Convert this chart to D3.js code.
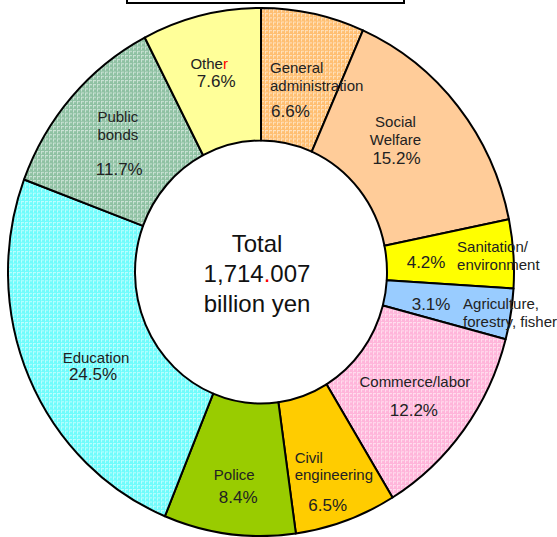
<!DOCTYPE html>
<html>
<head>
<meta charset="utf-8">
<script src="https://cdn.jsdelivr.net/npm/d3@7"></script>
<style>
  body { margin: 0; background: #fff; }
  svg { display: block; }
  text { font-family: "Liberation Sans", Arial, sans-serif; fill: #222; }
</style>
</head>
<body>
<svg id="chart" width="557" height="537"></svg>
<script>
const categories = ["General administration", "Social Welfare", "Sanitation/environment",
  "Agriculture, forestry, fishery", "Commerce/labor", "Civil engineering", "Police",
  "Education", "Public bonds", "Other"];
const shares = [6.6, 15.2, 4.2, 3.1, 12.2, 6.5, 8.4, 24.5, 11.7, 7.6];
const nameLines = [["General", "administration"], ["Social", "Welfare"], ["Sanitation/", "environment"],
  ["Agriculture,", "forestry, fishery"], ["Commerce/labor"], ["Civil", "engineering"], ["Police"],
  ["Education"], ["Public", "bonds"], ["Othe{r}"]];
const totalLines = ["Total", "1,714{.}007", "billion yen"];

const fills = ["#ffbf72", "#ffcc99", "#ffff00", "#99ccff", "#ffb5da", "#ffcc00", "#99cc00",
  "#6ffcfc", "#8fc1a3", "#ffff99"];
const dotted = [true, false, false, false, true, false, false, true, true, false];

// label layout: offsets from slice centroid, for name lines and for the percentage
const layout = [
  { anchor: "start", dx: -30, dy: [-5.5, 12.5], pAnchor: "start", pdx: -29, pdy: 38.5 },
  { anchor: "middle", dx: -13, dy: [-21, -3], pAnchor: "middle", pdx: -12, pdy: 16 },
  { anchor: "start", dx: 7, dy: [-6.4, 11.6], pAnchor: "middle", pdx: -24, pdy: 9.6 },
  { anchor: "start", dx: 15, dy: [5.4, 23.4], pAnchor: "middle", pdx: -17, pdy: 6.4 },
  { anchor: "middle", dx: 2, dy: [-3], pAnchor: "middle", pdx: 1, pdy: 26 },
  { anchor: "start", dx: -30, dy: [5, 22], pAnchor: "middle", pdx: 3, pdy: 53 },
  { anchor: "middle", dx: -3, dy: [12], pAnchor: "middle", pdx: 1, pdy: 35 },
  { anchor: "middle", dx: 8.7, dy: [12], pAnchor: "middle", pdx: 5.7, pdy: 29 },
  { anchor: "middle", dx: -1.4, dy: [-18.7, -0.7], pAnchor: "middle", pdx: 0, pdy: 34.3 },
  { anchor: "middle", dx: -7, dy: [-11], pAnchor: "middle", pdx: 0, pdy: 7 }
];

const cx = 261, cy = 272;
const rOuter = 253, rInner = 126;
const yScale = 264 / 253;

const svg = d3.select("#chart");

// title box (only its lower edge is visible)
svg.append("rect")
  .attr("x", 127).attr("y", -30)
  .attr("width", 277).attr("height", 33)
  .attr("fill", "#fff").attr("stroke", "#000").attr("stroke-width", 2);

const defs = svg.append("defs");
fills.forEach((c, i) => {
  if (!dotted[i]) return;
  const p = defs.append("pattern")
    .attr("id", "pat" + i)
    .attr("patternUnits", "userSpaceOnUse")
    .attr("width", 4).attr("height", 4);
  p.append("rect").attr("width", 4).attr("height", 4).attr("fill", c);
  p.append("rect").attr("x", 0).attr("y", 0).attr("width", 3).attr("height", 1)
    .attr("fill", "#fff").attr("opacity", 0.55);
  p.append("rect").attr("x", 0).attr("y", 1).attr("width", 1).attr("height", 2)
    .attr("fill", "#fff").attr("opacity", 0.55);
});

const pie = d3.pie().sort(null).value(d => d)
  .startAngle(0).endAngle(2 * Math.PI);
const arcs = pie(shares);

const arc = d3.arc().innerRadius(rInner).outerRadius(rOuter);

const g = svg.append("g")
  .attr("transform", `translate(${cx},${cy}) scale(1,${yScale})`);

g.selectAll("path.slice")
  .data(arcs)
  .join("path")
  .attr("class", "slice")
  .attr("d", arc)
  .attr("fill", (d, i) => dotted[i] ? `url(#pat${i})` : fills[i])
  .attr("stroke", "#000")
  .attr("stroke-width", 2)
  .attr("stroke-linejoin", "round")
  .attr("vector-effect", "non-scaling-stroke");

// text with {x} marking a red character
const addRich = (sel, str) => {
  str.split(/(\{[^}]*\})/).filter(s => s.length).forEach(part => {
    if (part[0] === "{") {
      sel.append("tspan").style("fill", "#ff0000").text(part.slice(1, -1));
    } else {
      sel.append("tspan").text(part);
    }
  });
};

const labels = svg.append("g");
const fmt = d3.format(".1f");

arcs.forEach((d, i) => {
  const [mx, my] = arc.centroid(d);
  const px = cx + mx, py = cy + my * yScale;
  const L = layout[i];
  nameLines[i].forEach((line, j) => {
    const t = labels.append("text")
      .attr("x", px + L.dx)
      .attr("y", py + L.dy[j])
      .attr("text-anchor", L.anchor)
      .style("font-size", "15px");
    addRich(t, line);
  });
  labels.append("text")
    .attr("x", px + L.pdx)
    .attr("y", py + L.pdy)
    .attr("text-anchor", L.pAnchor)
    .style("font-size", "17px")
    .text(fmt(d.data) + "%");
});

// centre total
totalLines.forEach((line, j) => {
  const t = svg.append("text")
    .attr("x", cx - 4)
    .attr("y", cy - 20 + j * 30)
    .attr("text-anchor", "middle")
    .style("font-size", "24px")
    .style("fill", "#111");
  addRich(t, line);
});
</script>
</body>
</html>
